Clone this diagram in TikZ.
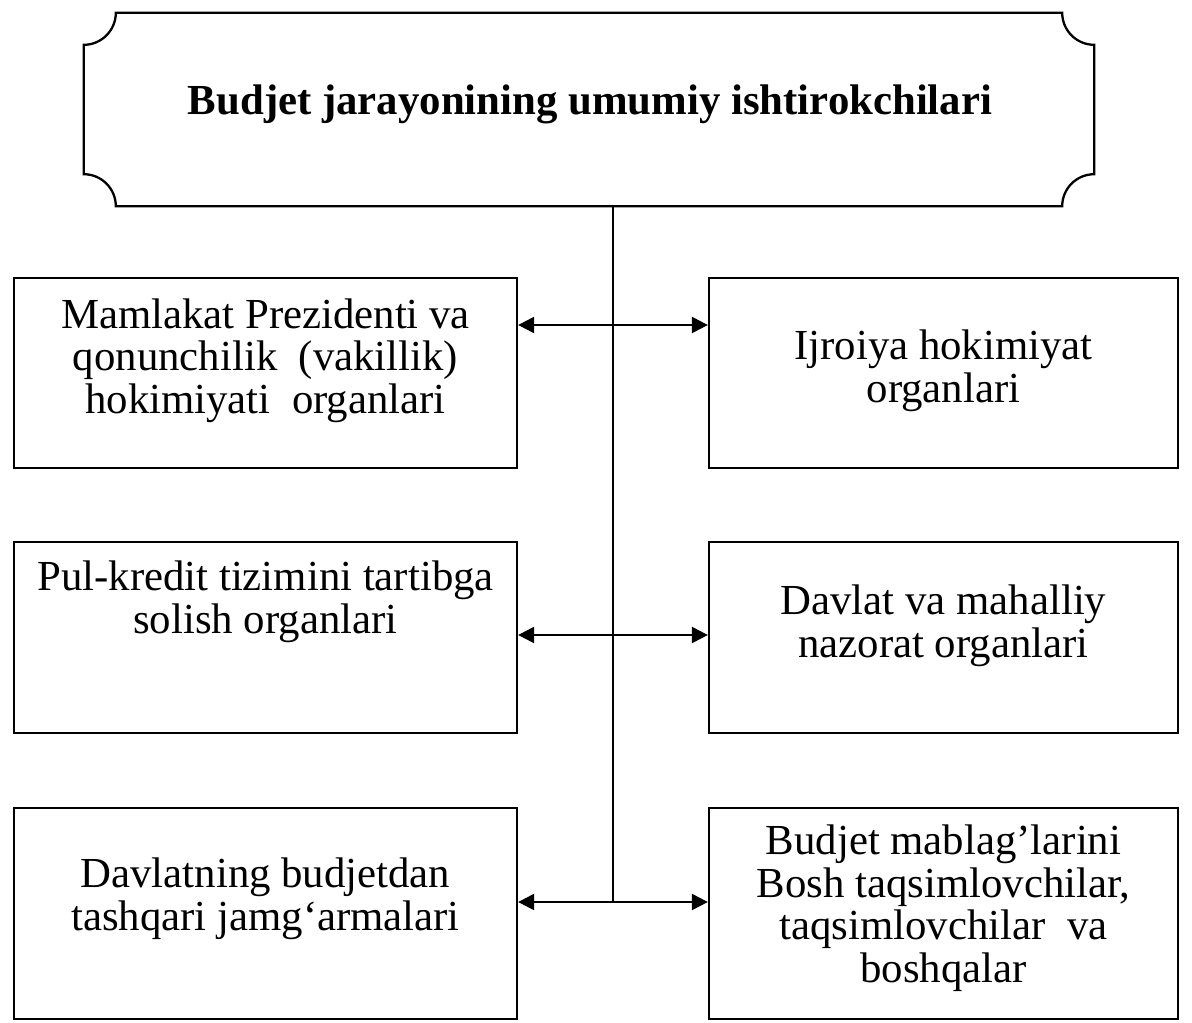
\documentclass[tikz,border=0pt]{standalone}
\usepackage{fontspec}
\setmainfont{Liberation Serif}
\usepackage{tikz}
\usetikzlibrary{
  positioning, calc, arrows.meta
}
\tikzset{
	boxtext/.style={font=\fontsize{42.8}{42.5}\selectfont, align=center, anchor=base, inner sep=0pt}
}
\tikzset{
	titletext/.style={font=\fontsize{42.8}{42.5}\selectfont\bfseries, anchor=base, inner sep=0pt}
}

\begin{document}
\begin{tikzpicture}[x=1pt, y=1pt]
			\tikzset{
				basicbox/.style={
						shape=rectangle,
						draw=black,
						line width=2.3pt,
						fill=white,
						inner sep=0pt
					},
				leftbox/.style={basicbox, minimum width=503pt},
				rightbox/.style={basicbox, minimum width=469pt},
				link/.style={line width=2.3pt, {Triangle[length=16pt,width=16pt]}-{Triangle[length=16pt,width=16pt]}}
			}
			\useasboundingbox (0,0) rectangle (1192,-1023);

			% heading plaque
			\node[minimum width=1010pt, minimum height=193pt, inner sep=0pt] (head) at (589,-109.5) {};
			\draw[line width=2.3pt]
				($(head.north west)+(32,0)$) -- ($(head.north east)+(-32,0)$)
				arc[start angle=180, end angle=270, radius=32]
				-- ($(head.south east)+(0,32)$)
				arc[start angle=90, end angle=180, radius=32]
				-- ($(head.south west)+(32,0)$)
				arc[start angle=0, end angle=90, radius=32]
				-- ($(head.north west)+(0,-32)$)
				arc[start angle=270, end angle=360, radius=32]
				-- cycle;
			\node[titletext] (title) at (590,-114) {Budjet jarayonining umumiy ishtirokchilari};

			% boxes
			\node[leftbox, minimum height=190pt] (l1) at (265.5,-373) {};
			\node[leftbox, minimum height=191pt] (l2) at (265.5,-637.5) {};
			\node[leftbox, minimum height=211pt] (l3) at (265.5,-913.5) {};
			\node[rightbox, minimum height=190pt] (r1) at (943.5,-373) {};
			\node[rightbox, minimum height=191pt] (r2) at (943.5,-637.5) {};
			\node[rightbox, minimum height=211pt] (r3) at (943.5,-913.5) {};

			% text blocks (placed at the baseline of their last line)
			\node[boxtext] (t1) at (265.5,-413) {Mamlakat Prezidenti va\\qonunchilik\ \ (vakillik)\\hokimiyati\ \ organlari};
			\node[boxtext] (t2) at (265.5,-633) {Pul-kredit tizimini tartibga\\solish organlari};
			\node[boxtext] (t3) at (265.5,-930) {Davlatning budjetdan\\tashqari jamg‘armalari};
			\node[boxtext] (t4) at (943.5,-402) {Ijroiya hokimiyat\\organlari};
			\node[boxtext] (t5) at (943.5,-657) {Davlat va mahalliy\\nazorat organlari};
			\node[boxtext] (t6) at (943.5,-982) {Budjet mablag’larini\\Bosh taqsimlovchilar,\\taqsimlovchilar\ \ va\\boshqalar};

			% spine and links
			\coordinate (a1) at (613,-325);
			\coordinate (a2) at (613,-635);
			\coordinate (a3) at (613,-902);
			\draw[line width=2.3pt] (head.south -| a3) -- (a3);
			\draw[link] (l1.east |- a1) -- (r1.west |- a1);
			\draw[link] (l2.east |- a2) -- (r2.west |- a2);
			\draw[link] (l3.east |- a3) -- (r3.west |- a3);
		\end{tikzpicture}
\end{document}
